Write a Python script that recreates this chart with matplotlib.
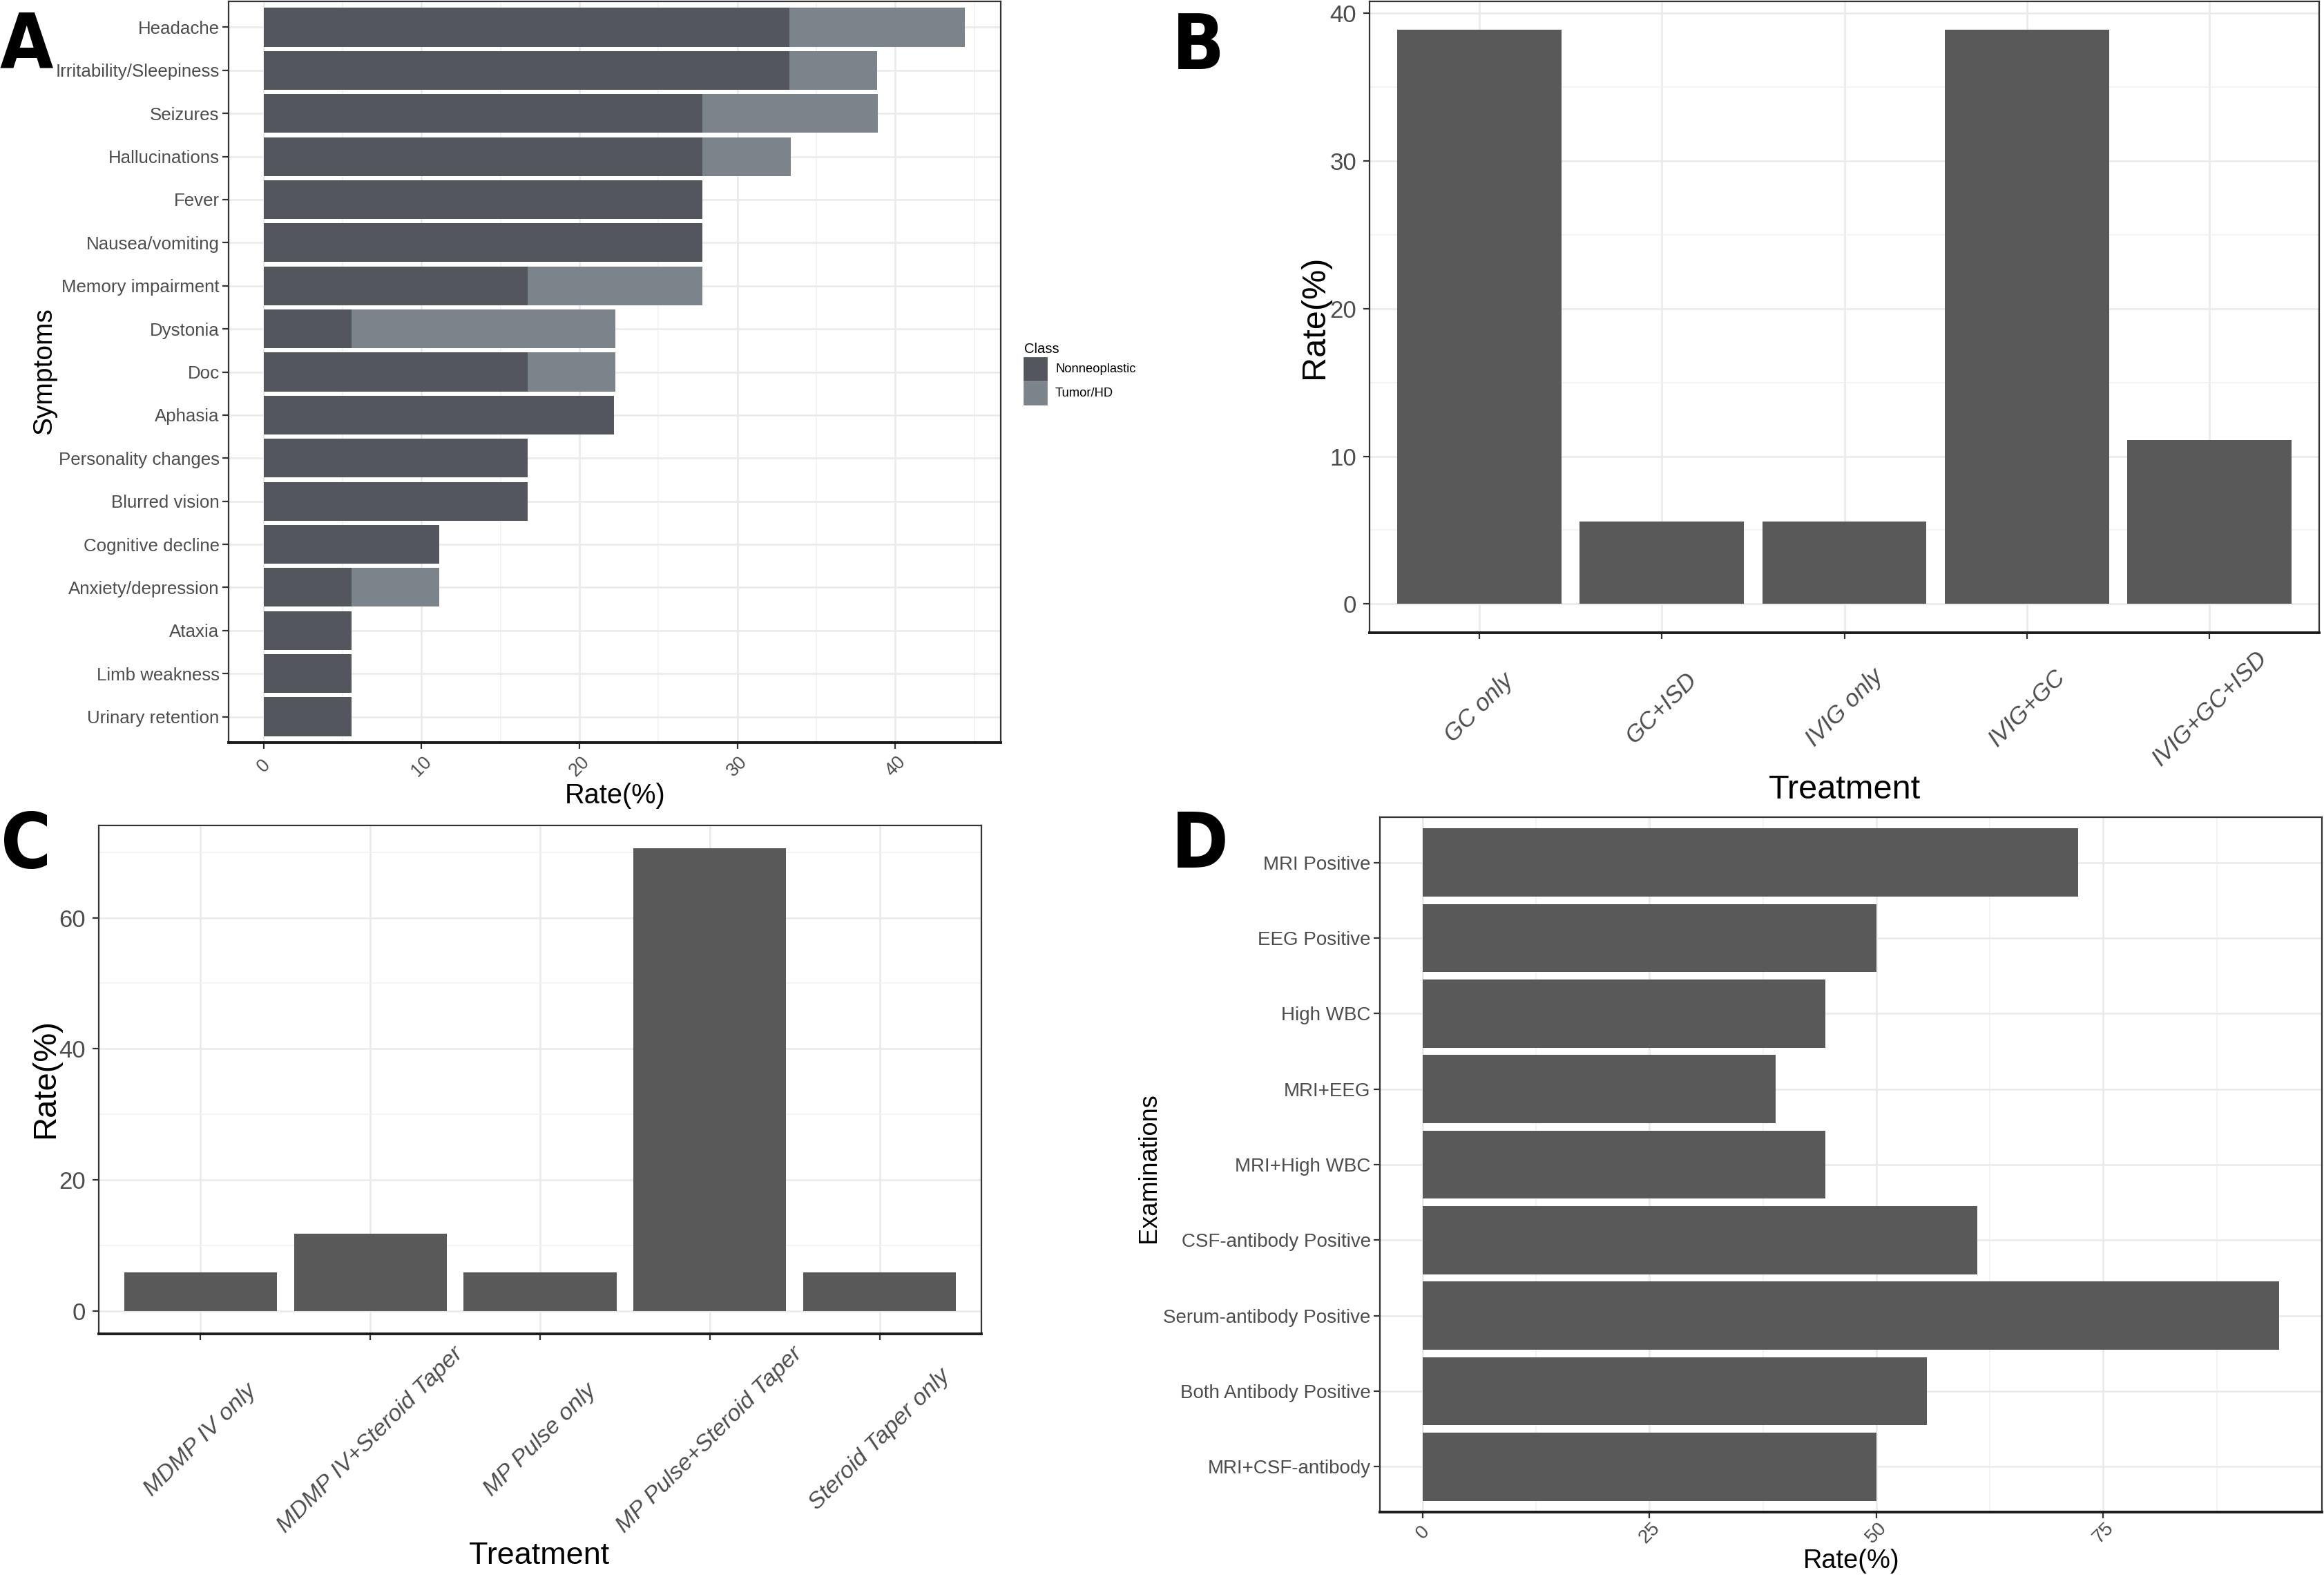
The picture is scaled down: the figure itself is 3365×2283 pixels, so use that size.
import matplotlib
matplotlib.use("Agg")
import matplotlib.pyplot as plt
from matplotlib.patches import Patch
from matplotlib import font_manager
from matplotlib.font_manager import FontProperties

W, H, DPI = 3365, 2283, 200
plt.rcParams["font.family"] = ["Liberation Sans", "DejaVu Sans"]


def narrow_bold():
    # look for an installed bold condensed/narrow face for the panel letters
    for f in font_manager.fontManager.ttflist:
        tag = (f.name + " " + f.fname).lower()
        w = f.weight if isinstance(f.weight, int) else (700 if "bold" in str(f.weight) else 400)
        if ("narrow" in tag or "condensed" in tag or f.stretch in ("condensed", "semi-condensed")) \
                and w >= 600 and "oblique" not in tag and "italic" not in tag:
            return FontProperties(fname=f.fname)
    return FontProperties(family="Liberation Sans", weight="bold")


# ---- data ----
symptoms = ["Headache", "Irritability/Sleepiness", "Seizures", "Hallucinations", "Fever",
            "Nausea/vomiting", "Memory impairment", "Dystonia", "Doc", "Aphasia",
            "Personality changes", "Blurred vision", "Cognitive decline", "Anxiety/depression",
            "Ataxia", "Limb weakness", "Urinary retention"]
nonneo = [33.3, 33.3, 27.8, 27.8, 27.8, 27.8, 16.7, 5.56, 16.7, 22.2,
          16.7, 16.7, 11.1, 5.56, 5.56, 5.56, 5.56]
tumor = [11.1, 5.56, 11.1, 5.56, 0, 0, 11.1, 16.7, 5.56, 0,
         0, 0, 0, 5.56, 0, 0, 0]

treat_b = ["GC only", "GC+ISD", "IVIG only", "IVIG+GC", "IVIG+GC+ISD"]
rate_b = [38.9, 5.56, 5.56, 38.9, 11.1]

treat_c = ["MDMP IV only", "MDMP IV+Steroid Taper", "MP Pulse only",
           "MP Pulse+Steroid Taper", "Steroid Taper only"]
rate_c = [5.88, 11.76, 5.88, 70.59, 5.88]

exams = ["MRI Positive", "EEG Positive", "High WBC", "MRI+EEG", "MRI+High WBC",
         "CSF-antibody Positive", "Serum-antibody Positive", "Both Antibody Positive",
         "MRI+CSF-antibody"]
rate_d = [72.2, 50.0, 44.4, 38.9, 44.4, 61.1, 94.4, 55.6, 50.0]

DARK, LIGHT, BAR = "#53565d", "#7b848b", "#595959"
TICKC = "#4d4d4d"


def px(x, y):
    return x / W, 1 - y / H


def axes_px(l, t, r, b):
    return fig.add_axes([l / W, 1 - b / H, (r - l) / W, (b - t) / H])


def style(ax):
    for s in ax.spines.values():
        s.set_color("#333333"); s.set_linewidth(0.8)
    ax.spines["bottom"].set_linewidth(1.4); ax.spines["bottom"].set_color("#1a1a1a")
    ax.set_axisbelow(True)
    ax.grid(which="major", color="#ebebeb", lw=1.0)
    ax.grid(which="minor", color="#f2f2f2", lw=0.6)
    ax.tick_params(which="both", color="#333333", width=0.8, length=3.3, labelcolor=TICKC)
    ax.tick_params(which="minor", length=0)


fig = plt.figure(figsize=(W / DPI, H / DPI), dpi=DPI)

# ---- A ----
ax = axes_px(331, 2, 1449, 1075)
yy = range(len(symptoms))
ax.barh(yy, nonneo, height=0.9, color=DARK, label="Nonneoplastic")
ax.barh(yy, tumor, left=nonneo, height=0.9, color=LIGHT, label="Tumor/HD")
ax.set_ylim(len(symptoms) - 0.4, -0.6)
ax.set_xlim(-2.22, 46.67)
ax.set_yticks(list(yy)); ax.set_yticklabels(symptoms)
ax.set_xticks([0, 10, 20, 30, 40]); ax.set_xticks([5, 15, 25, 35, 45], minor=True)
style(ax)
ax.tick_params(axis="y", labelsize=9.3, pad=1.5)
ax.tick_params(axis="x", labelsize=9.6, pad=9)
for t in ax.get_xticklabels():
    t.set_rotation(45); t.set_ha("center"); t.set_va("center")
handles = [Patch(color=DARK), Patch(color=LIGHT)]
leg = ax.legend(handles, ["Nonneoplastic", "Tumor/HD"], title="Class", loc="upper left",
                bbox_to_anchor=px(1470, 483), bbox_transform=fig.transFigure, frameon=False,
                fontsize=6.6, title_fontsize=7.3, handlelength=1.75, handleheight=2.31,
                labelspacing=0.16, handletextpad=0.72, borderpad=0.7, borderaxespad=0)
leg._legend_box.align = "left"
fig.text(*px(64, 537), "Symptoms", rotation=90, ha="center", va="center", fontsize=14)
fig.text(*px(891, 1152), "Rate(%)", ha="center", va="center", fontsize=14.3)

# ---- B ----
ax = axes_px(1983, 2, 3358, 916)
xx = range(len(treat_b))
ax.bar(xx, rate_b, width=0.9, color=BAR)
ax.set_xlim(-0.6, len(treat_b) - 0.4)
ax.set_ylim(-1.95, 40.8)
ax.set_xticks(list(xx)); ax.set_xticklabels(treat_b)
ax.set_yticks([0, 10, 20, 30, 40]); ax.set_yticks([5, 15, 25, 35], minor=True)
style(ax)
ax.tick_params(axis="y", labelsize=12.5)
ax.tick_params(axis="x", labelsize=12.5, pad=36)
for t in ax.get_xticklabels():
    t.set_rotation(45); t.set_ha("center"); t.set_va("center"); t.set_style("italic")
fig.text(*px(1904, 459), "Rate(%)", rotation=90, ha="center", va="center", fontsize=17.5)
fig.text(*px(2671, 1144), "Treatment", ha="center", va="center", fontsize=17.5)

# ---- C ----
ax = axes_px(143, 1195, 1421, 1931)
xx = range(len(treat_c))
ax.bar(xx, rate_c, width=0.9, color=BAR)
ax.set_xlim(-0.6, len(treat_c) - 0.4)
ax.set_ylim(-3.53, 74.1)
ax.set_xticks(list(xx)); ax.set_xticklabels(treat_c)
ax.set_yticks([0, 20, 40, 60]); ax.set_yticks([10, 30, 50, 70], minor=True)
style(ax)
ax.tick_params(axis="y", labelsize=12.5)
ax.tick_params(axis="x", labelsize=12.2, pad=52)
for t in ax.get_xticklabels():
    t.set_rotation(45); t.set_ha("center"); t.set_va("center"); t.set_style("italic")
fig.text(*px(66, 1562), "Rate(%)", rotation=90, ha="center", va="center", fontsize=17)
fig.text(*px(781, 2253), "Treatment", ha="center", va="center", fontsize=16.2)

# ---- D ----
ax = axes_px(1998, 1183, 3362, 2189)
yy = range(len(exams))
ax.barh(yy, rate_d, height=0.9, color=BAR)
ax.set_ylim(len(exams) - 0.4, -0.6)
ax.set_xlim(-4.72, 99.1)
ax.set_yticks(list(yy)); ax.set_yticklabels(exams)
ax.set_xticks([0, 25, 50, 75]); ax.set_xticks([12.5, 37.5, 62.5, 87.5], minor=True)
style(ax)
ax.tick_params(axis="y", labelsize=10, pad=1.5)
ax.tick_params(axis="x", labelsize=10, pad=7.5)
for t in ax.get_xticklabels():
    t.set_rotation(45); t.set_ha("center"); t.set_va("center")
fig.text(*px(1663, 1691), "Examinations", rotation=90, ha="center", va="center", fontsize=13)
fig.text(*px(2681, 2260), "Rate(%)", ha="center", va="center", fontsize=13.7)

# ---- panel letters ----
fp = narrow_bold()
fp.set_size(40)
for lab, (x, y) in zip("ABCD", [(38, 68), (1735, 70), (38, 1225), (1737, 1225)]):
    fig.text(*px(x, y), lab, ha="center", va="center", fontproperties=fp)

fig.savefig("out.png", dpi=DPI)
